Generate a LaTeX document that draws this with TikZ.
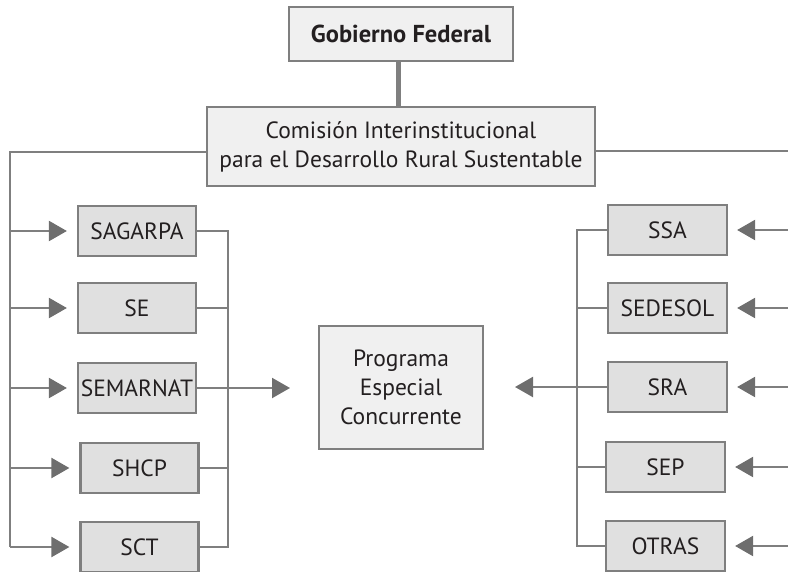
\documentclass[tikz,border=0pt]{standalone}
\usepackage{fontspec}
\setmainfont{PT Sans}
\usetikzlibrary{arrows.meta}
\definecolor{edge}{HTML}{7F7F7F}
\definecolor{lightfill}{HTML}{F0F0F0}
\definecolor{boxfill}{HTML}{E0E0E0}
\definecolor{tipcol}{HTML}{6E6E6E}
\definecolor{txt}{HTML}{231F20}
\begin{document}
\begin{tikzpicture}[x=1pt,y=-1pt,
  base/.style={draw=edge,line width=2.2pt,text=txt,font=\fontsize{23.5}{29}\selectfont,align=center,inner sep=0pt},
  topbox/.style={base,fill=lightfill},
  agency/.style={base,fill=boxfill,minimum height=50pt},
  conn/.style={draw=edge,line width=2.2pt},
  arr/.style={conn,-{Triangle[length=18pt,width=20pt,fill=tipcol,color=tipcol]}}
]
\useasboundingbox (0,0) rectangle (788,571);
\node[topbox,minimum width=224pt,minimum height=54pt,font=\fontsize{24.5}{29}\selectfont\bfseries] (gob) at (401,34) {Gobierno Federal};
\node[topbox,minimum width=388pt,minimum height=79pt] (com) at (401,146.5) {Comisión Interinstitucional\\para el Desarrollo Rural Sustentable};
\draw[draw=edge,line width=5pt] (gob.south -| 398,0) -- (com.north -| 398,0);
\node[topbox,minimum width=164pt,minimum height=123pt] (pec) at (401,387.5) {Programa\\Especial\\Concurrente};

% left agencies
\node[agency,minimum width=118pt] (l1) at (137,231) {SAGARPA};
\node[agency,minimum width=118pt] (l2) at (137,308) {SE};
\node[agency,minimum width=118pt] (l3) at (137,388) {SEMARNAT};
\node[agency,minimum width=118pt] (l4) at (139.5,468) {SHCP};
\node[agency,minimum width=118pt] (l5) at (139.5,547) {SCT};

% right agencies
\node[agency,minimum width=119pt] (r1) at (667.5,230) {SSA};
\node[agency,minimum width=119pt] (r2) at (667.5,308) {SEDESOL};
\node[agency,minimum width=119pt] (r3) at (667.5,387) {SRA};
\node[agency,minimum width=119pt] (r4) at (665.5,467) {SEP};
\node[agency,minimum width=119pt] (r5) at (665.5,546) {OTRAS};

% left trunk
\coordinate (lc) at (10,152);
\coordinate (lb) at (10,547);
\draw[conn] (com.west |- lc) -- (lc) -- (lb);
\foreach \n in {l1,l2,l3,l4,l5}{
  \draw[arr,shorten >=10pt] (10,0 |- \n.west) -- (\n.west);
}
% left bracket
\coordinate (lbt) at (228,231);
\coordinate (lbb) at (228,547);
\draw[conn] (l1.east) -- (lbt) -- (lbb) -- (l5.east);
\foreach \n in {l2,l4}{ \draw[conn] (\n.east) -- (228,0 |- \n.east); }
\coordinate (pin) at (290,388);
\draw[arr] (l3.east) -- (pin);

% right trunk
\coordinate (rc) at (795,151);
\draw[conn] (com.east |- rc) -- (rc);
\foreach \n in {r1,r2,r3,r4,r5}{
  \coordinate (e\n) at (795,0 |- \n.east);
  \draw[arr,shorten >=9pt] (e\n) -- (\n.east);
}
% right bracket
\coordinate (rbt) at (577,230);
\coordinate (rbb) at (577,546);
\draw[conn] (r1.west) -- (rbt) -- (rbb) -- (r5.west);
\foreach \n in {r2,r3,r4}{ \draw[conn] (\n.west) -- (577,0 |- \n.west); }
\coordinate (pout) at (515,387);
\draw[arr] (577,387) -- (pout);
\end{tikzpicture}
\end{document}
